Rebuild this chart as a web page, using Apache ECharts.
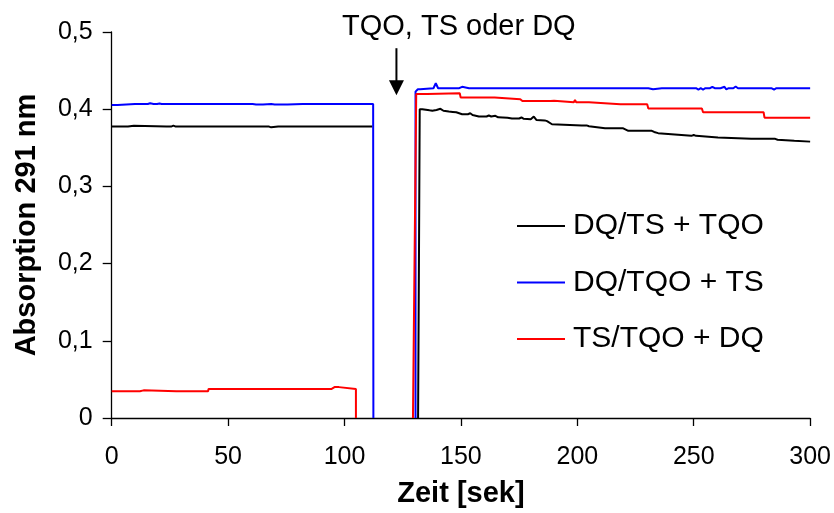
<!DOCTYPE html>
<html>
<head>
<meta charset="utf-8">
<script src="https://cdn.jsdelivr.net/npm/echarts@6/dist/echarts.min.js"></script>
<style>
html,body{margin:0;padding:0;background:#fff;}
#chart{width:834px;height:513px;}
</style>
</head>
<body>
<div id="chart"></div>
<script>
// ---- data (time in s, absorbance) ----
var seriesNames = ['DQ/TS + TQO', 'DQ/TQO + TS', 'TS/TQO + DQ'];
var seriesColors = ['#000000', '#0000FF', '#FF0000'];

var xTicks = [0, 50, 100, 150, 200, 250, 300];
var yTickValues = [0, 0.1, 0.2, 0.3, 0.4, 0.5];
var yTickLabels = ['0', '0,1', '0,2', '0,3', '0,4', '0,5'];

var annotText = 'TQO, TS oder DQ';
var annotTextPos = [149.1, 0.506];
var annotArrowFrom = [122.3, 0.479];
var annotArrowTo = [122.3, 0.418];

var blackBefore = [[0,0.3775],[7,0.3775],[7.5,0.3787],[9.5,0.3787],[10,0.3775],[23.5,0.3775],[24.2,0.3787],[25.5,0.3775],[26.5,0.3787],[27.5,0.3775],[29,0.3775],[29.8,0.3787],[30.5,0.3775],[40.4,0.3775],[41.1,0.3765],[41.8,0.3775],[66,0.3775],[66.8,0.3765],[67.6,0.3775],[68.5,0.3765],[69.3,0.3775],[71.5,0.3775],[72.2,0.3765],[73,0.3775],[81.7,0.3775],[82.5,0.3765],[83.3,0.3775],[97.5,0.3775],[98.2,0.3765],[99,0.3775],[112,0.3775]];
var blackAfter = [[131.6,0],[132.0,0.22],[132.3,0.40],[133.4,0.400],[136.5,0.3985],[137.7,0.398],[139.5,0.399],[141.2,0.4005],[142.5,0.398],[144.8,0.397],[146.5,0.3965],[148,0.396],[150.5,0.3935],[153,0.3935],[154,0.3948],[155,0.3925],[157.7,0.3905],[161,0.3905],[162,0.3918],[163,0.3905],[164.8,0.3915],[166,0.3895],[170,0.389],[171.9,0.388],[175,0.388],[176,0.3893],[177,0.3875],[180,0.387],[181.3,0.3905],[182.5,0.386],[186,0.3855],[187,0.3845],[189.1,0.3805],[201.9,0.379],[204,0.379],[205,0.378],[211.9,0.3754],[219.5,0.3754],[220.3,0.3738],[221.9,0.372],[232,0.372],[233,0.3705],[234.7,0.369],[249,0.3655],[250,0.3665],[251,0.3655],[260.4,0.3633],[274.7,0.3616],[285,0.3616],[286,0.3605],[293.2,0.359],[300,0.358]];

var blueBefore = [[0,0.4055],[2.5,0.4055],[3,0.4068],[10,0.4068],[10.7,0.406],[11.5,0.4068],[14,0.4068],[14.8,0.4075],[15.5,0.4068],[16.5,0.4078],[17.2,0.4068],[18,0.4068],[18.8,0.4082],[19.5,0.4068],[20.5,0.4075],[21.5,0.4068],[22.3,0.406],[23,0.4068],[27,0.4068],[27.8,0.406],[28.6,0.4068],[35,0.4068],[35.8,0.406],[36.6,0.4068],[38.5,0.4068],[39.3,0.406],[40,0.4068],[42.5,0.4068],[43.3,0.406],[44,0.4068],[52,0.4068],[52.7,0.4061],[53.5,0.4068],[57.5,0.4068],[58.3,0.406],[59,0.4068],[60.5,0.4068],[61.3,0.406],[62,0.4061],[65,0.4061],[65.8,0.4068],[68.5,0.4068],[69.3,0.406],[70,0.4061],[75.5,0.4061],[76.3,0.4068],[82,0.4068],[82.7,0.406],[83.5,0.4068],[94,0.4068],[94.8,0.406],[95.5,0.4068],[98,0.4068],[98.8,0.406],[99.5,0.4068],[112.3,0.4068],[112.4,0]];
var blueAfter = [[130.5,0],[130.5,0.4228],[131.5,0.4259],[132.5,0.4259],[133.2,0.4272],[138.2,0.4272],[139.2,0.4336],[140.2,0.4272],[145,0.4272],[145.6,0.429],[146.3,0.4272],[148,0.4272],[148.6,0.429],[149.3,0.4272],[150.5,0.429],[151.3,0.4272],[153.5,0.4272],[154.2,0.429],[155,0.4272],[176,0.4272],[176.6,0.4295],[177.3,0.4272],[190.5,0.4272],[191.2,0.4295],[192.5,0.4272],[230.5,0.4272],[231.3,0.4255],[232.5,0.4258],[233.3,0.4272],[236.3,0.4272],[237,0.4255],[237.8,0.4272],[249.5,0.4272],[250.2,0.4255],[251,0.4272],[252,0.4255],[253,0.4272],[254,0.4255],[255,0.4272],[257,0.4272],[258,0.429],[259,0.4272],[261.5,0.4272],[262.3,0.429],[263.2,0.429],[264,0.4258],[265,0.4272],[267,0.4272],[268,0.4295],[269,0.4272],[281.5,0.4272],[282.3,0.4255],[283.3,0.4272],[284.5,0.4255],[285.5,0.4272],[297.5,0.4272],[298.3,0.4255],[299.2,0.4272],[300,0.4272]];

var redBefore = [[0,0.0347],[12.1,0.0347],[12.6,0.0358],[13.7,0.0358],[14.2,0.0347],[27.8,0.0347],[28.3,0.0358],[29.3,0.0347],[41.4,0.0347],[41.6,0.0375],[49.6,0.0375],[50.1,0.0363],[50.6,0.0375],[94.3,0.0375],[94.8,0.040],[95.7,0.040],[96.2,0.0385],[96.7,0.040],[97.6,0.040],[98.1,0.0375],[104.9,0.0375],[104.9,0]];
var redAfter = [[129.4,0],[130.8,0.4198],[135.5,0.4198],[136,0.4207],[149.5,0.4207],[149.9,0.415],[164.5,0.415],[164.9,0.413],[175.5,0.413],[176,0.4145],[176.4,0.4107],[188.5,0.4107],[189,0.4095],[190,0.411],[190.5,0.409],[198.5,0.409],[199,0.412],[199.5,0.409],[205,0.409],[205.5,0.4065],[218.5,0.4065],[219.2,0.4055],[220,0.4065],[230,0.4065],[230.5,0.401],[253.5,0.401],[254,0.396],[262,0.396],[262.8,0.395],[263.5,0.396],[280,0.396],[280.4,0.389],[300,0.389]];

// ---- chart ----
var FONT = '"Liberation Sans", Arial, sans-serif';
var chart = echarts.init(document.getElementById('chart'), null, {renderer: 'canvas'});

function seg(name, color, data) {
  return {
    name: name,
    type: 'line',
    data: data,
    symbol: 'none',
    showSymbol: false,
    animation: false,
    clip: false,
    lineStyle: {color: color, width: 2},
    itemStyle: {color: color}
  };
}
var segs = [
  [blackBefore, blackAfter],
  [blueBefore, blueAfter],
  [redBefore, redAfter]
];
var series = [];
for (var i = 0; i < seriesNames.length; i++) {
  series.push(seg(seriesNames[i], seriesColors[i], segs[i][0]));
  series.push(seg(seriesNames[i], seriesColors[i], segs[i][1]));
}

var axisLineStyle = {color: '#000', width: 1.3};

chart.setOption({
  backgroundColor: '#fff',
  animation: false,
  grid: {left: 111.7, right: 21.5, top: 32, bottom: 94.5, containLabel: false},
  legend: {
    orient: 'vertical',
    left: 517,
    top: 211,
    padding: 0,
    icon: 'rect',
    itemWidth: 48,
    itemHeight: 2,
    itemGap: 26.5,
    data: seriesNames,
    textStyle: {fontFamily: FONT, fontSize: 30, color: '#000', lineHeight: 28, padding: [0, 0, 0, 3]}
  },
  xAxis: {
    type: 'value',
    min: xTicks[0],
    max: xTicks[xTicks.length - 1],
    interval: 50,
    name: 'Zeit [sek]',
    nameLocation: 'middle',
    nameGap: 61,
    nameTextStyle: {fontFamily: FONT, fontSize: 29, fontWeight: 'bold', color: '#000'},
    axisLine: {show: true, lineStyle: axisLineStyle},
    axisTick: {show: true, inside: false, length: 8, lineStyle: axisLineStyle},
    axisLabel: {fontFamily: FONT, fontSize: 25, color: '#000', margin: 27},
    splitLine: {show: false}
  },
  yAxis: {
    type: 'value',
    min: 0,
    max: 0.5,
    interval: 0.1,
    name: 'Absorption 291 nm',
    nameLocation: 'middle',
    nameGap: 70,
    nameRotate: 90,
    nameTextStyle: {fontFamily: FONT, fontSize: 29, fontWeight: 'bold', color: '#000'},
    axisLine: {show: true, lineStyle: axisLineStyle},
    axisTick: {show: true, inside: false, length: 9, lineStyle: axisLineStyle},
    axisLabel: {
      fontFamily: FONT, fontSize: 25, color: '#000', margin: 19,
      formatter: function (v) {
        for (var k = 0; k < yTickValues.length; k++) {
          if (Math.abs(yTickValues[k] - v) < 1e-9) return yTickLabels[k];
        }
        return '';
      }
    },
    splitLine: {show: false}
  },
  series: series
});

// annotation (text + arrow) positioned from data coordinates
var pT = chart.convertToPixel({gridIndex: 0}, annotTextPos);
var pA = chart.convertToPixel({gridIndex: 0}, annotArrowFrom);
var pB = chart.convertToPixel({gridIndex: 0}, annotArrowTo);
var head = 15;
chart.setOption({
  graphic: [
    {
      type: 'text',
      x: pT[0], y: pT[1],
      style: {text: annotText, fontFamily: FONT, fontSize: 29, fill: '#000', align: 'center', verticalAlign: 'middle'},
      silent: true
    },
    {
      type: 'line',
      shape: {x1: pA[0], y1: pA[1], x2: pB[0], y2: pB[1] - head + 2},
      style: {stroke: '#000', lineWidth: 2},
      silent: true
    },
    {
      type: 'polygon',
      shape: {points: [[pB[0] - 7.5, pB[1] - head], [pB[0] + 7.5, pB[1] - head], [pB[0], pB[1]]]},
      style: {fill: '#000'},
      silent: true
    }
  ]
});
</script>
</body>
</html>
